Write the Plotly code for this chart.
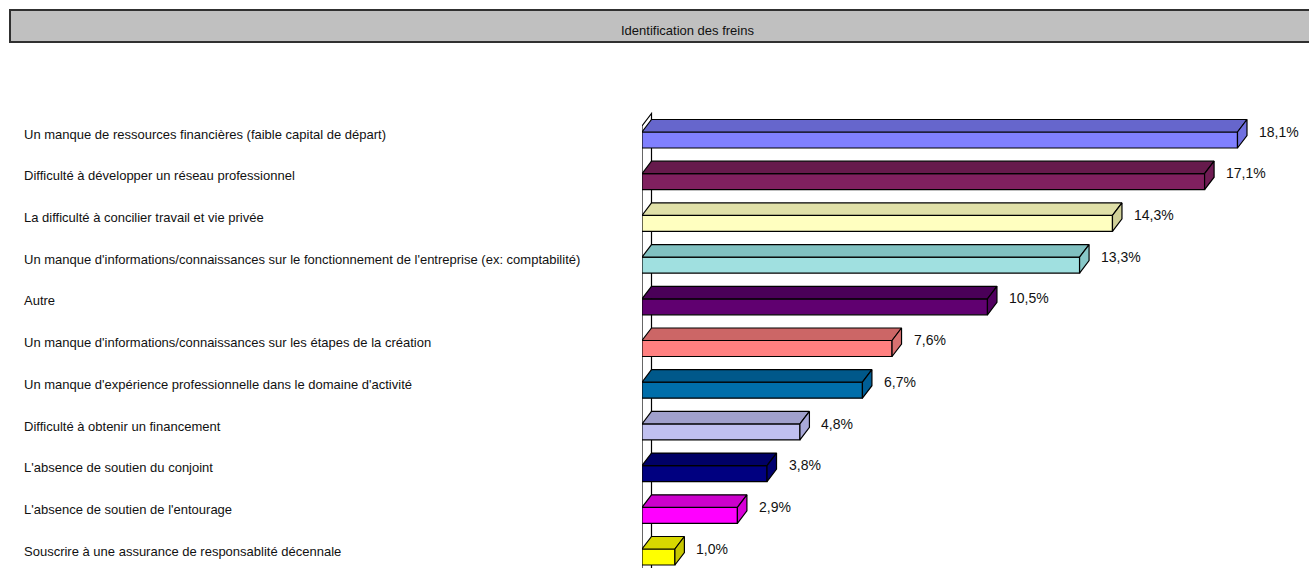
import plotly.graph_objects as go

# --- data -------------------------------------------------------------
categories = [
    "Un manque de ressources financières (faible capital de départ)",
    "Difficulté à développer un réseau professionnel",
    "La difficulté à concilier travail et vie privée",
    "Un manque d'informations/connaissances sur le fonctionnement de l'entreprise (ex: comptabilité)",
    "Autre",
    "Un manque d'informations/connaissances sur les étapes de la création",
    "Un manque d'expérience professionnelle dans le domaine d'activité",
    "Difficulté à obtenir un financement",
    "L'absence de soutien du conjoint",
    "L'absence de soutien de l'entourage",
    "Souscrire à une assurance de responsablité décennale",
]
values = [18.1, 17.1, 14.3, 13.3, 10.5, 7.6, 6.7, 4.8, 3.8, 2.9, 1.0]
value_labels = [f"{v:.1f}".replace(".", ",") + "%" for v in values]

front_colors = ["#8080FF", "#80205F", "#FFFFC0", "#A0E0E0", "#600070", "#FF8080",
                "#006EAA", "#C0C0F0", "#000080", "#FF00FF", "#FFFF00"]
top_colors = ["#6666CC", "#661A4C", "#E0E0A8", "#80C0C0", "#4A0058", "#CC6666",
              "#00588A", "#A0A0CC", "#000066", "#CC00CC", "#D8D800"]
side_colors = ["#7070E0", "#701C54", "#D0D098", "#88C8C8", "#520060", "#D87070",
               "#005E96", "#A8A8D8", "#000070", "#D800D8", "#C8C800"]

# --- geometry (pixel scale of the drawing) ---------------------------
W, H = 1309, 568
X0_PX = 642            # left edge of the plotting area
PX_PER_PCT = 32.9
ROW0_PX = 140          # centre of first bar front
PX_PER_ROW = 41.7
FRONT_H = 16 / PX_PER_ROW
DDX = 9.5 / PX_PER_PCT       # depth offset along x (data units)
DDY = 12.5 / PX_PER_ROW      # depth offset along y (row units)

rows = list(range(len(values)))

fig = go.Figure()

# front faces
fig.add_trace(go.Bar(
    x=values, y=rows, orientation="h", width=FRONT_H,
    marker=dict(color=front_colors, line=dict(color="#000000", width=1.2)),
    hoverinfo="skip", showlegend=False,
))

# top and right faces
for i, v in enumerate(values):
    yt = i - FRONT_H / 2
    yb = i + FRONT_H / 2
    fig.add_trace(go.Scatter(
        x=[0, v, v + DDX, DDX, 0], y=[yt, yt, yt - DDY, yt - DDY, yt],
        mode="lines", fill="toself", fillcolor=top_colors[i],
        line=dict(color="#000000", width=1.2), hoverinfo="skip", showlegend=False,
    ))
    fig.add_trace(go.Scatter(
        x=[v, v + DDX, v + DDX, v, v], y=[yt, yt - DDY, yb - DDY, yb, yt],
        mode="lines", fill="toself", fillcolor=side_colors[i],
        line=dict(color="#000000", width=1.2), hoverinfo="skip", showlegend=False,
    ))

# left wall behind the bars
wall_top = -FRONT_H / 2 - 6 / PX_PER_ROW
wall_bot = len(values) + 1
fig.add_shape(
    type="path", xref="x", yref="y", layer="below",
    path=(f"M 0 {wall_bot} L 0 {wall_top} L {DDX} {wall_top - DDY} "
          f"L {DDX} {wall_bot} Z"),
    fillcolor="#FFFFFF", line=dict(color="#000000", width=1.2),
)

FAMILY = "Liberation Sans Narrow, Arial Narrow, Liberation Sans, Arial"
label_font = dict(family=FAMILY, size=13, color="#111111")
value_font = dict(family=FAMILY, size=14, color="#111111")
title_font = dict(family=FAMILY, size=13, color="#111111")

# category labels, left aligned
for i, c in enumerate(categories):
    fig.add_annotation(
        x=22 / W, xref="paper", y=i - 0.14, yref="y", text=c,
        showarrow=False, xanchor="left", yanchor="middle", font=label_font,
    )

# value labels
for i, (v, t) in enumerate(zip(values, value_labels)):
    fig.add_annotation(
        x=v + DDX + 10 / PX_PER_PCT, xref="x", y=i - 0.2, yref="y", text=t,
        showarrow=False, xanchor="left", yanchor="middle", font=value_font,
    )

# title bar
fig.add_shape(
    type="rect", xref="paper", yref="paper",
    x0=10 / W, x1=1.08, y0=1 - 42 / H, y1=1 - 10 / H,
    fillcolor="#C0C0C0", line=dict(color="#303030", width=2),
)
fig.add_annotation(
    x=687 / W, xref="paper", y=1 - 30 / H, yref="paper",
    text="Identification des freins", showarrow=False,
    xanchor="center", yanchor="middle", font=title_font,
)

fig.update_xaxes(domain=[X0_PX / W, 1], range=[0, (W - X0_PX) / PX_PER_PCT],
                 visible=False, fixedrange=True)
fig.update_yaxes(domain=[0, 1],
                 range=[(H - ROW0_PX) / PX_PER_ROW, -ROW0_PX / PX_PER_ROW],
                 autorange=False, visible=False, fixedrange=True)
fig.update_layout(
    width=W, height=H, margin=dict(l=0, r=0, t=0, b=0),
    paper_bgcolor="#FFFFFF", plot_bgcolor="#FFFFFF", barmode="overlay",
    showlegend=False,
)

fig.write_html("out.html", config={"displayModeBar": False})
